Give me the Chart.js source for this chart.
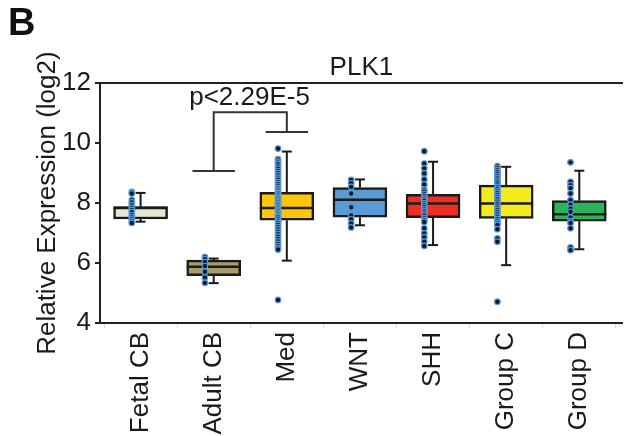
<!DOCTYPE html>
<html>
<head>
<meta charset="utf-8">
<script src="https://cdn.jsdelivr.net/npm/chart.js@4.4.1/dist/chart.umd.min.js"></script>
<style>
  html, body { margin: 0; padding: 0; background: #fff; }
  #wrap { position: relative; width: 628px; height: 436px; }
  #panel { position: absolute; left: 8px; top: 3px; font: bold 38px 'Liberation Sans', Arial, sans-serif; line-height: 38px; color: #111; }
</style>
</head>
<body>
<div id="wrap">
  <canvas id="myChart" width="628" height="436"></canvas>
  <div id="panel">B</div>
</div>
<script>
// groups and box stats (log2 expression)
const groups = ['Fetal CB', 'Adult CB', 'Med', 'WNT', 'SHH', 'Group C', 'Group D'];
const q1 = [7.47, 5.58, 7.43, 7.53, 7.51, 7.49, 7.40];
const median = [7.84, 5.88, 7.84, 8.11, 7.99, 7.99, 7.63];
const q3 = [7.88, 6.10, 8.36, 8.52, 8.29, 8.60, 8.08];
const whiskerLow = [7.38, 5.33, 6.08, 7.26, 6.60, 5.93, 6.46];
const whiskerHigh = [8.34, 6.15, 9.72, 8.79, 9.38, 9.21, 9.08];
const boxColors = ['#e7e5d3', '#a89d68', '#fdc60a', '#5b9bd5', '#ec2e24', '#f4eb1d', '#2bb45c'];

// individual samples
const fetalCB = [8.37, 8.32, 8.10, 8.02, 7.93, 7.85, 7.77, 7.70, 7.60, 7.52, 7.46, 7.40, 7.34];
const adultCB = [6.20, 6.14, 6.04, 5.90, 5.71, 5.52, 5.34];
const med = [9.82, 9.47, 9.42, 9.36, 9.30, 9.22, 9.15, 9.07, 9.00, 8.92, 8.85, 8.78, 8.70, 8.63,
  8.56, 8.50, 8.44, 8.38, 8.33, 8.28, 8.22, 8.17, 8.12, 8.07, 8.02, 7.97, 7.92, 7.87, 7.82, 7.77,
  7.72, 7.67, 7.62, 7.57, 7.52, 7.46, 7.40, 7.34, 7.27, 7.20, 7.12, 7.04, 6.96, 6.88, 6.80, 6.72,
  6.64, 6.56, 6.50, 6.45, 4.77];
const wnt = [8.77, 8.66, 8.54, 8.32, 7.86, 7.59, 7.46, 7.32, 7.19];
const shh = [9.73, 9.32, 9.16, 8.99, 8.79, 8.62, 8.45, 8.38, 8.30, 8.22, 8.15, 8.08, 8.00, 7.93,
  7.86, 7.79, 7.72, 7.65, 7.58, 7.50, 7.43, 7.37, 7.16, 6.99, 6.86, 6.71, 6.57];
const groupC = [9.23, 9.17, 9.10, 9.03, 8.96, 8.89, 8.82, 8.75, 8.68, 8.61, 8.54, 8.47, 8.40, 8.33,
  8.26, 8.19, 8.12, 8.05, 7.98, 7.91, 7.84, 7.77, 7.70, 7.62, 7.55, 7.47, 7.40, 7.33, 7.27, 7.13,
  6.82, 6.71, 4.71];
const groupD = [9.36, 8.71, 8.60, 8.50, 8.32, 8.10, 7.95, 7.82, 7.71, 7.52, 7.40, 7.34, 7.16, 6.52, 6.43];

const yLabelTicks = [4, 6, 8, 10, 12];
const pText = 'p<2.29E-5';

const font = "'Liberation Sans', Arial, sans-serif";
const ink = '#1a1a1a';
const xMin = -0.555, xMax = 6.595;
const pointShift = -0.12;

// significance bracket between Adult CB and Med
const bracket = { from: 1, to: 2, top: 11.03, fromEnd: 9.07, toEnd: 10.37, tee: 0.29, textX: 1.49 };

const pointSets = [fetalCB, adultCB, med, wnt, shh, groupC, groupD];
const pointData = pointSets.flatMap((vals, i) => vals.map(v => ({ x: i + pointShift, y: v })));
const boxData = groups.map((g, i) => ({ x: i, y: [q1[i], q3[i]] }));

function seg(ctx, x1, y1, x2, y2) {
  ctx.beginPath();
  ctx.moveTo(x1, y1);
  ctx.lineTo(x2, y2);
  ctx.stroke();
}

const boxExtras = {
  id: 'boxExtras',
  afterDatasetDraw(chart, args) {
    if (args.index !== 0) return;
    const { ctx, scales: { x, y } } = chart;
    const bars = chart.getDatasetMeta(0).data;
    ctx.save();
    ctx.strokeStyle = ink;
    groups.forEach((g, i) => {
      const cx = x.getPixelForValue(i);
      const half = bars[i].width / 2;
      ctx.lineWidth = 2.5;
      const ym = y.getPixelForValue(median[i]);
      seg(ctx, cx - half, ym, cx + half, ym);
      ctx.lineWidth = 2;
      const yHi = y.getPixelForValue(whiskerHigh[i]);
      const yLo = y.getPixelForValue(whiskerLow[i]);
      seg(ctx, cx, y.getPixelForValue(q3[i]), cx, yHi);
      seg(ctx, cx - 5, yHi, cx + 5, yHi);
      seg(ctx, cx, y.getPixelForValue(q1[i]), cx, yLo);
      seg(ctx, cx - 5, yLo, cx + 5, yLo);
    });
    ctx.restore();
  },
  afterDatasetsDraw(chart) {
    const { ctx, scales: { x, y } } = chart;
    const b = bracket;
    const xa = x.getPixelForValue(b.from), xb = x.getPixelForValue(b.to);
    const yt = y.getPixelForValue(b.top);
    const ya = y.getPixelForValue(b.fromEnd), yb = y.getPixelForValue(b.toEnd);
    const tw = x.getPixelForValue(b.tee) - x.getPixelForValue(0);
    ctx.save();
    ctx.strokeStyle = '#333';
    ctx.lineWidth = 2;
    ctx.beginPath();
    ctx.moveTo(xa, ya);
    ctx.lineTo(xa, yt);
    ctx.lineTo(xb, yt);
    ctx.lineTo(xb, yb);
    ctx.stroke();
    seg(ctx, xa - tw, ya, xa + tw, ya);
    seg(ctx, xb - tw, yb, xb + tw, yb);
    ctx.fillStyle = ink;
    ctx.font = '26px ' + font;
    ctx.textAlign = 'center';
    ctx.textBaseline = 'alphabetic';
    ctx.fillText(pText, x.getPixelForValue(b.textX), yt - 7);
    ctx.restore();
  }
};

const ctx = document.getElementById('myChart');

new Chart(ctx, {
  type: 'bar',
  data: {
    datasets: [
      {
        type: 'bar',
        data: boxData,
        backgroundColor: boxColors,
        borderColor: ink,
        borderWidth: 2.5,
        borderSkipped: false,
        barThickness: 54,
        order: 2
      },
      {
        type: 'scatter',
        data: pointData,
        backgroundColor: '#0b1a33',
        borderColor: '#5b9bd5',
        borderWidth: 1.2,
        pointRadius: 2.8,
        order: 1
      }
    ]
  },
  options: {
    responsive: false,
    animation: false,
    layout: { padding: 0 },
    plugins: {
      legend: { display: false },
      tooltip: { enabled: false },
      title: {
        display: true,
        text: 'PLK1',
        fullSize: false,
        color: ink,
        font: { family: font, size: 26, weight: 'normal' },
        padding: { top: 52, bottom: 0 }
      }
    },
    scales: {
      x: {
        type: 'linear',
        position: 'bottom',
        min: xMin,
        max: xMax,
        offset: false,
        afterBuildTicks: axis => { axis.ticks = groups.map((g, i) => ({ value: i })); },
        afterFit: axis => { axis.height = 113; },
        ticks: {
          autoSkip: false,
          minRotation: 90,
          maxRotation: 90,
          padding: 4,
          color: ink,
          font: { family: font, size: 26 },
          callback: (v, i) => groups[i]
        },
        grid: { offset: true, drawOnChartArea: false, color: '#dcdcdc', tickLength: 5, lineWidth: 1 },
        border: { display: true, color: '#222', width: 2 }
      },
      xTop: {
        type: 'linear',
        position: 'top',
        min: xMin,
        max: xMax,
        ticks: { display: false },
        grid: { display: false, drawTicks: false },
        border: { display: true, color: '#222', width: 2 }
      },
      y: {
        min: 4,
        max: 12,
        beginAtZero: false,
        afterFit: axis => { axis.width = 100; },
        ticks: {
          stepSize: 1,
          padding: 4,
          color: ink,
          font: { family: font, size: 26 },
          callback: v => (yLabelTicks.includes(v) ? v : '')
        },
        grid: { drawOnChartArea: false, color: '#222', tickLength: 5, lineWidth: 2 },
        border: { display: true, color: '#222', width: 2 },
        title: {
          display: true,
          text: 'Relative Expression (log2)',
          color: ink,
          font: { family: font, size: 26 },
          padding: { top: 32, bottom: 0 }
        }
      }
    }
  },
  plugins: [boxExtras]
});
</script>
</body>
</html>
